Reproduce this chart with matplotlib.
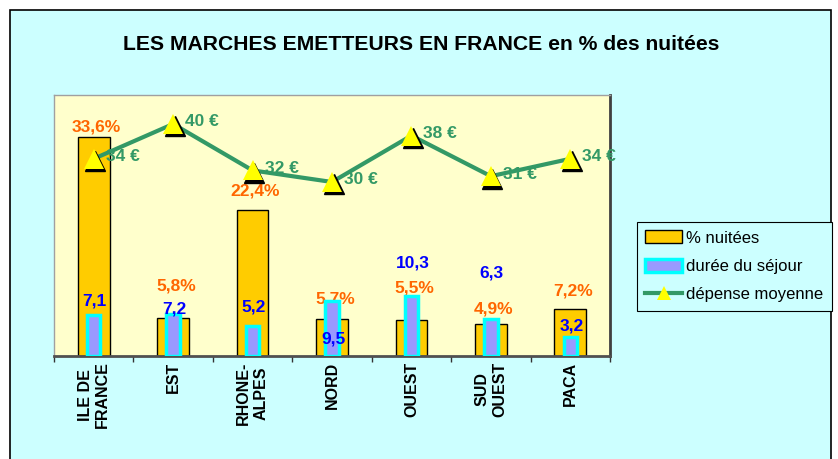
import numpy as np
import matplotlib
matplotlib.use("Agg")
import matplotlib.pyplot as plt
from matplotlib.patches import Rectangle, Patch
from matplotlib.lines import Line2D
from matplotlib import transforms

plt.rcParams['font.family'] = ['Liberation Sans', 'DejaVu Sans']

# data
regions = ["ILE DE\nFRANCE", "EST", "RHONE-\nALPES", "NORD", "OUEST", "SUD\nOUEST", "PACA"]
nuitees = [33.6, 5.8, 22.4, 5.7, 5.5, 4.9, 7.2]          # % nuitées
duree = [7.1, 7.2, 5.2, 9.5, 10.3, 6.3, 3.2]             # durée du séjour
depense = [34, 40, 32, 30, 38, 31, 34]                   # dépense moyenne (€)

# label placement tweaks (pixels above the bar top), as in the original
pct_dy = [10, 32, 19, 20, 32, 15, 18]
duree_dy = [14, 5, 19, -38, 33, 46, 11]

BG = "#CCFFFF"
PLOT_BG = "#FFFFCC"
GOLD = "#FFCC00"
PURPLE = "#9999FF"
CYAN = "#00FFFF"
GREEN = "#339966"
ORANGE = "#FF6600"
BLUE = "#0000FF"

W, H = 838, 459
fig = plt.figure(figsize=(W / 100, H / 100), dpi=100, facecolor="white")

# outer chart frame
fig.patches.append(Rectangle((10 / W, -0.05), (831 - 10) / W, 1.05 - 10 / H,
                             transform=fig.transFigure, facecolor=BG,
                             edgecolor="black", linewidth=1.2, zorder=-10))

left, right, top, bottom = 54, 610, 95, 356
ax = fig.add_axes([left / W, 1 - bottom / H, (right - left) / W, (bottom - top) / H])
ax.set_facecolor(PLOT_BG)
x = np.arange(len(regions))

ax.bar(x, nuitees, width=0.4, color=GOLD, edgecolor="black", linewidth=1.0, zorder=2)
ax.set_ylim(0, 40)
ax.set_xlim(-0.5, len(regions) - 0.5)
ax.set_yticks([])

ax.set_xticks(x)
ax.set_xticklabels(regions, rotation=90, fontweight="bold", fontsize=11.5,
                   va="top", ha="center", multialignment="center")
ax.tick_params(axis="x", which="major", length=0, pad=4)
ax.set_xticks(np.arange(-0.5, len(regions)), minor=True)
ax.tick_params(axis="x", which="minor", length=4, width=1, color="#333333", direction="out")

for side in ["top", "left"]:
    ax.spines[side].set_color("#A0A0A0")
    ax.spines[side].set_linewidth(1)
ax.spines["right"].set_color("#404040")
ax.spines["right"].set_linewidth(2)
ax.spines["bottom"].set_color("#505050")
ax.spines["bottom"].set_linewidth(2)

for i, v in enumerate(nuitees):
    ax.annotate(f"{v:.1f}%".replace(".", ","), xy=(i, v), xytext=(3, pct_dy[i]),
                textcoords="offset pixels", ha="center", va="center",
                color=ORANGE, fontweight="bold", fontsize=12.5, zorder=5)

# secondary scale for durée and dépense
ax2 = ax.twinx()
ax2.set_ylim(0, 45)
ax2.set_yticks([])
ax2.patch.set_visible(False)
for s in ax2.spines.values():
    s.set_visible(False)

ax2.bar(x, duree, width=0.17, color=PURPLE, edgecolor=CYAN, linewidth=2.5, zorder=2)

for i, v in enumerate(duree):
    ax2.annotate(f"{v:.1f}".replace(".", ","), xy=(i, v), xytext=(1, duree_dy[i]),
                 textcoords="offset pixels", ha="center", va="center",
                 color=BLUE, fontweight="bold", fontsize=12.5, zorder=5)

ax2.plot(x, depense, color=GREEN, linewidth=3, zorder=3)
shadow = transforms.offset_copy(ax2.transData, fig=fig, x=1.5, y=-2.5, units="dots")
ax2.plot(x, depense, linestyle="none", marker="^", markersize=14,
         color="black", transform=shadow, zorder=4)
ax2.plot(x, depense, linestyle="none", marker="^", markersize=14,
         color="#FFFF00", markeredgewidth=0, zorder=4)

for i, v in enumerate(depense):
    ax2.annotate(f"{v} €", xy=(i, v), xytext=(12, 2), textcoords="offset pixels",
                 ha="left", va="center", color=GREEN, fontweight="bold",
                 fontsize=12.5, zorder=5)

fig.text(421 / W, 1 - 44 / H, "LES MARCHES EMETTEURS EN FRANCE en % des nuitées",
         ha="center", va="center", fontsize=15.2, fontweight="bold")

handles = [
    Patch(facecolor=GOLD, edgecolor="black", linewidth=1.0),
    Patch(facecolor=PURPLE, edgecolor=CYAN, linewidth=2.5),
    Line2D([0], [0], color=GREEN, linewidth=3, marker="^", markersize=10,
           markerfacecolor="#FFFF00", markeredgewidth=0),
]
leg = fig.legend(handles, ["% nuitées", "durée du séjour", "dépense moyenne"],
                 loc="upper left", bbox_to_anchor=(637 / W, 1 - 222 / H),
                 fontsize=12, frameon=True, fancybox=False, framealpha=1,
                 facecolor=BG, edgecolor="black", borderpad=0.5,
                 handlelength=2.2, handleheight=0.8, handletextpad=0.25,
                 labelspacing=0.8, borderaxespad=0)
leg.get_frame().set_linewidth(0.8)

fig.savefig("out.png", dpi=100, facecolor=fig.get_facecolor())
